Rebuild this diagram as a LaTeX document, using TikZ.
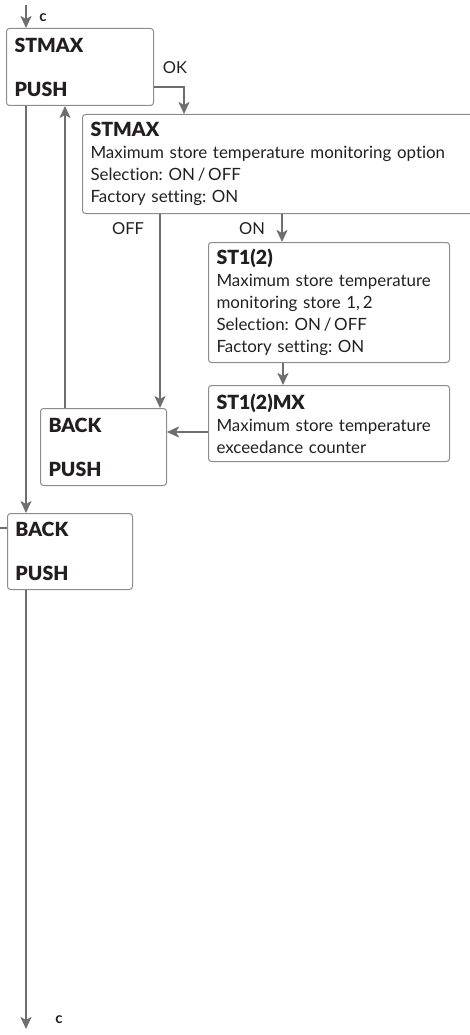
\documentclass[tikz,border=0pt]{standalone}
\usepackage{fontspec}
\setmainfont{Lato}[Ligatures=NoCommon]
\newfontfamily\heavyfont{Lato Black}
\usetikzlibrary{arrows.meta, positioning, calc}
\definecolor{LineGray}{HTML}{6D6E71}
\definecolor{BoxGray}{HTML}{8A8C8F}
\definecolor{DarkText}{HTML}{231F20}
\newcommand{\menutitle}[1]{{\fontsize{19.5}{22}\selectfont\heavyfont #1}}
\frenchspacing

\tikzset{
  menubox/.style={draw=BoxGray, line width=1pt, rounded corners=3pt, anchor=north west,
    align=left, inner xsep=8pt, inner ysep=0pt, text=DarkText,
    font=\fontsize{16.9}{22}\selectfont},
  conn/.style={draw=LineGray, line width=2pt, -{Stealth[length=12pt,width=11pt,inset=3pt]}},
  plainline/.style={draw=LineGray, line width=2pt},
  lbl/.style={text=DarkText, font=\fontsize{16.5}{18}\selectfont, inner sep=0pt},
  clbl/.style={text=DarkText, font=\fontsize{15}{16}\selectfont\bfseries, inner sep=0pt}
}

\begin{document}
\begin{tikzpicture}[x=1pt, y=1pt]
  \useasboundingbox (0,0) rectangle (470,-1035);

  % menu boxes
  \node[menubox, text width=131pt, minimum height=77pt] (stmax) at (6,-28)
    {\menutitle{STMAX}\\[22pt]\menutitle{PUSH}};
  \node[menubox, text width=404pt, minimum height=99pt] (option) at (82,-114)
    {\menutitle{STMAX}\\Maximum store temperature monitoring option\\Selection: ON\,/\,OFF\\Factory setting: ON};
  \node[menubox, text width=225pt, minimum height=120pt] (store) at (208,-242)
    {\menutitle{ST1(2)}\\Maximum store temperature\\monitoring store 1,\,2\\Selection: ON\,/\,OFF\\Factory setting: ON};
  \node[menubox, text width=225pt, minimum height=76pt] (counter) at (208,-385)
    {\menutitle{ST1(2)MX}\\Maximum store temperature\\exceedance counter};
  \node[menubox, text width=110pt, minimum height=77pt] (backin) at (40,-408)
    {\menutitle{BACK}\\[22pt]\menutitle{PUSH}};
  \node[menubox, text width=109pt, minimum height=76pt] (backout) at (7,-513)
    {\menutitle{BACK}\\[22pt]\menutitle{PUSH}};

  % entry and exit points
  \coordinate (cin) at (26,-5);
  \coordinate (cout) at (26,-1029);
  \coordinate (leftin) at (0,-528);
  \coordinate (mxout) at ([yshift=30pt]counter.south west);

  % connectors
  \draw[conn] (cin) -- (cin |- stmax.north);
  \node[clbl] (cinlbl) at (43,-18) {c};
  \draw[conn] ([yshift=19pt]stmax.south east) -| ([xshift=102pt]option.north west);
  \node[lbl] (oklbl) at (175,-68) {OK};
  \draw[conn] ([xshift=20pt]stmax.south west) -- ([xshift=19pt]backout.north west);
  \draw[conn] ([xshift=25pt]backin.north west) -- ([xshift=59pt]stmax.south west);
  \draw[conn] ([xshift=78pt]option.south west) -- ([xshift=120pt]backin.north west);
  \node[lbl] (offlbl) at (128,-229) {OFF};
  \draw[conn] ([xshift=200pt]option.south west) -- ([xshift=74pt]store.north west);
  \node[lbl] (onlbl) at (252,-229) {ON};
  \draw[conn] ([xshift=75pt]store.south west) -- ([xshift=75pt]counter.north west);
  \draw[conn] (mxout) -- (mxout -| backin.east);
  \draw[plainline] (leftin) -- (leftin -| backout.west);
  \draw[conn] ([xshift=19pt]backout.south west) -- (cout);
  \node[clbl] (coutlbl) at (59,-1020) {c};
\end{tikzpicture}
\end{document}
